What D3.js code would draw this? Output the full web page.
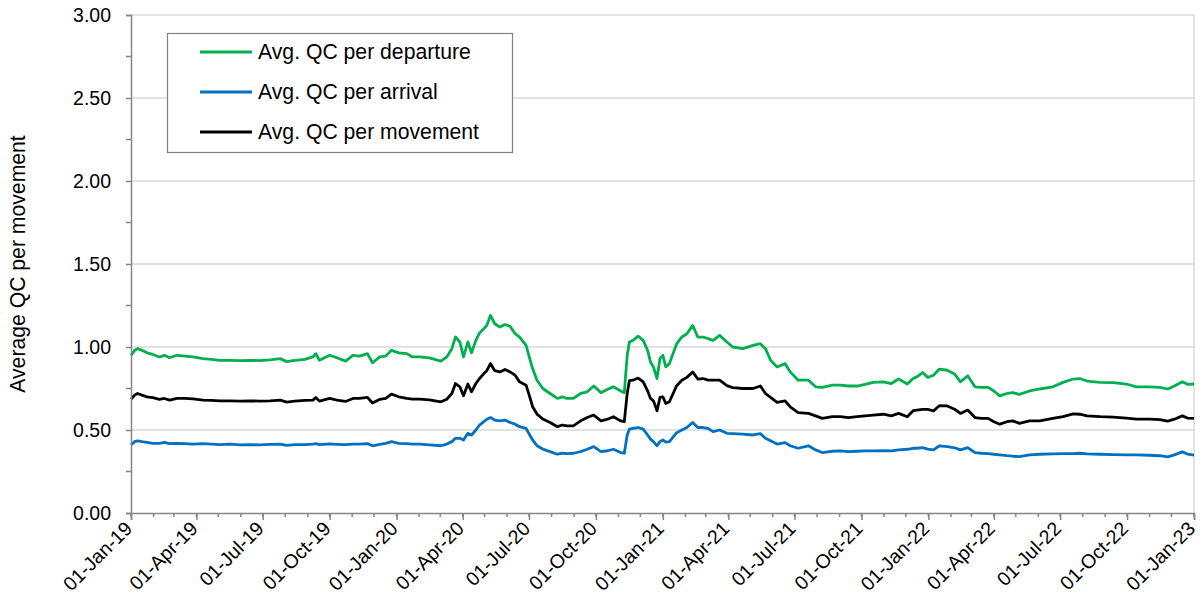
<!DOCTYPE html>
<html>
<head>
<meta charset="utf-8">
<script src="https://cdn.jsdelivr.net/npm/d3@7"></script>
<style>
  html, body { margin: 0; padding: 0; background: #fff; }
  svg { display: block; font-family: "Liberation Sans", Arial, sans-serif; }
</style>
</head>
<body>
<svg id="chart" width="1203" height="594"></svg>
<script>
const dates = ["2019-01-01","2019-01-06","2019-01-10","2019-01-16","2019-01-23","2019-01-31","2019-02-09","2019-02-16","2019-02-23","2019-03-05",
"2019-03-16","2019-03-27","2019-04-10","2019-04-22","2019-05-03","2019-05-17","2019-05-31","2019-06-13","2019-06-27","2019-07-11",
"2019-07-25","2019-08-03","2019-08-14","2019-08-28","2019-09-08","2019-09-12","2019-09-17","2019-10-01","2019-10-11","2019-10-23",
"2019-11-02","2019-11-11","2019-11-22","2019-11-29","2019-12-09","2019-12-17","2019-12-25","2020-01-04","2020-01-15","2020-01-23",
"2020-02-02","2020-02-15","2020-03-02","2020-03-10","2020-03-17","2020-03-22","2020-03-28","2020-04-02","2020-04-08","2020-04-13",
"2020-04-19","2020-04-24","2020-04-30","2020-05-04","2020-05-09","2020-05-15","2020-05-22","2020-05-29","2020-06-05","2020-06-12",
"2020-06-18","2020-06-27","2020-07-02","2020-07-06","2020-07-12","2020-07-20","2020-07-30","2020-08-09","2020-08-16","2020-08-22",
"2020-08-31","2020-09-10","2020-09-19","2020-09-28","2020-10-08","2020-10-17","2020-10-25","2020-11-04","2020-11-09","2020-11-13",
"2020-11-16","2020-11-21","2020-11-28","2020-12-05","2020-12-11","2020-12-15","2020-12-19","2020-12-24","2020-12-28","2021-01-01",
"2021-01-05","2021-01-10","2021-01-20","2021-01-27","2021-02-03","2021-02-11","2021-02-18","2021-02-25","2021-03-04","2021-03-11",
"2021-03-20","2021-03-30","2021-04-07","2021-04-21","2021-05-05","2021-05-15","2021-05-22","2021-05-29","2021-06-07","2021-06-18",
"2021-06-25","2021-07-06","2021-07-20","2021-07-30","2021-08-08","2021-08-22","2021-09-02","2021-09-13","2021-09-25","2021-10-06",
"2021-10-17","2021-10-31","2021-11-11","2021-11-21","2021-12-03","2021-12-11","2021-12-16","2021-12-24","2021-12-31","2022-01-08",
"2022-01-16","2022-01-27","2022-02-06","2022-02-14","2022-02-24","2022-03-06","2022-03-15","2022-03-24","2022-04-01","2022-04-09",
"2022-04-19","2022-04-27","2022-05-06","2022-05-20","2022-06-03","2022-06-21","2022-07-05","2022-07-19","2022-07-28","2022-08-07",
"2022-08-25","2022-09-12","2022-09-30","2022-10-14","2022-11-01","2022-11-15","2022-11-26","2022-12-05","2022-12-16","2022-12-23",
"2023-01-01"];

const departure = [0.95,0.98,0.99,0.98,0.965,0.955,0.94,0.95,0.935,0.95,
0.945,0.94,0.93,0.925,0.92,0.92,0.918,0.92,0.918,0.922,
0.93,0.912,0.92,0.925,0.94,0.96,0.92,0.95,0.935,0.915,
0.95,0.945,0.96,0.905,0.94,0.945,0.98,0.965,0.96,0.94,
0.94,0.935,0.915,0.94,0.99,1.06,1.03,0.94,1.03,0.965,
1.04,1.085,1.11,1.13,1.19,1.14,1.12,1.135,1.125,1.08,
1.06,1.01,0.93,0.87,0.80,0.75,0.72,0.69,0.70,0.69,
0.69,0.72,0.73,0.765,0.725,0.745,0.76,0.735,0.725,0.95,
1.03,1.04,1.065,1.04,0.98,0.91,0.88,0.81,0.93,0.95,
0.88,0.90,1.02,1.06,1.08,1.13,1.06,1.06,1.05,1.04,
1.07,1.03,1.00,0.99,1.01,1.02,0.99,0.92,0.88,0.90,
0.85,0.80,0.80,0.76,0.757,0.77,0.77,0.765,0.765,0.775,
0.787,0.79,0.78,0.807,0.777,0.81,0.82,0.846,0.817,0.83,
0.867,0.86,0.837,0.79,0.827,0.76,0.757,0.757,0.735,0.706,
0.72,0.725,0.715,0.735,0.747,0.76,0.787,0.807,0.81,0.795,
0.787,0.785,0.777,0.76,0.76,0.757,0.747,0.765,0.79,0.775,
0.777];

const arrival = [0.41,0.43,0.435,0.43,0.425,0.42,0.42,0.425,0.418,0.42,
0.418,0.415,0.418,0.415,0.412,0.415,0.41,0.412,0.41,0.413,
0.415,0.408,0.412,0.412,0.415,0.418,0.412,0.416,0.414,0.412,
0.415,0.415,0.418,0.405,0.414,0.42,0.43,0.42,0.418,0.415,
0.415,0.41,0.405,0.415,0.43,0.45,0.45,0.44,0.48,0.47,
0.50,0.53,0.55,0.565,0.575,0.56,0.555,0.56,0.545,0.535,
0.52,0.51,0.47,0.44,0.405,0.385,0.37,0.354,0.36,0.358,
0.36,0.37,0.384,0.40,0.37,0.375,0.384,0.364,0.36,0.47,
0.505,0.51,0.515,0.505,0.47,0.445,0.43,0.405,0.43,0.44,
0.427,0.43,0.484,0.50,0.515,0.545,0.515,0.515,0.51,0.49,
0.50,0.48,0.478,0.475,0.47,0.478,0.45,0.435,0.415,0.424,
0.405,0.39,0.405,0.38,0.364,0.372,0.374,0.37,0.372,0.374,
0.374,0.376,0.374,0.38,0.384,0.39,0.39,0.394,0.385,0.38,
0.405,0.40,0.393,0.38,0.394,0.364,0.36,0.358,0.354,0.35,
0.345,0.342,0.34,0.35,0.354,0.356,0.358,0.358,0.36,0.356,
0.354,0.352,0.35,0.35,0.348,0.345,0.338,0.35,0.368,0.355,
0.348];

const movement = [0.685,0.71,0.72,0.71,0.70,0.695,0.685,0.69,0.68,0.69,
0.69,0.688,0.68,0.678,0.676,0.676,0.674,0.676,0.674,0.676,
0.68,0.668,0.674,0.678,0.68,0.696,0.674,0.69,0.68,0.672,
0.69,0.69,0.696,0.663,0.685,0.69,0.716,0.70,0.69,0.686,
0.686,0.682,0.67,0.685,0.72,0.78,0.76,0.706,0.777,0.73,
0.78,0.81,0.84,0.857,0.90,0.857,0.85,0.865,0.85,0.83,
0.79,0.77,0.70,0.64,0.596,0.566,0.545,0.52,0.53,0.525,
0.525,0.555,0.575,0.59,0.555,0.565,0.58,0.555,0.55,0.72,
0.797,0.80,0.813,0.79,0.736,0.69,0.676,0.616,0.696,0.70,
0.66,0.67,0.767,0.80,0.817,0.85,0.807,0.81,0.80,0.80,
0.80,0.767,0.755,0.75,0.75,0.765,0.72,0.696,0.666,0.676,
0.64,0.605,0.60,0.585,0.57,0.58,0.58,0.575,0.58,0.585,
0.59,0.595,0.585,0.60,0.58,0.616,0.62,0.624,0.624,0.615,
0.646,0.645,0.625,0.60,0.62,0.575,0.57,0.57,0.55,0.535,
0.55,0.555,0.54,0.555,0.555,0.57,0.58,0.597,0.595,0.585,
0.58,0.578,0.572,0.566,0.565,0.563,0.553,0.565,0.585,0.572,
0.57];

const seriesNames = ["Avg. QC per departure", "Avg. QC per arrival", "Avg. QC per movement"];
const seriesColors = ["#00b050", "#0070c0", "#000000"];
const yTicks = [0, 0.5, 1.0, 1.5, 2.0, 2.5, 3.0];
const yTitle = "Average QC per movement";

const parse = d3.timeParse("%Y-%m-%d");
const dts = dates.map(parse);
const seriesValues = [departure, arrival, movement];

const svg = d3.select("#chart");
const L = 131, R = 1194, T = 15, B = 513;

const x = d3.scaleTime().domain([parse("2019-01-01"), parse("2023-01-01")]).range([L, R]);
const y = d3.scaleLinear().domain([0, 3]).range([B, T]);

const tickFont = "19.5px";
const bigFont = "21.2px";

// gridlines
svg.append("g").selectAll("line").data(yTicks.filter(v => v > 0)).join("line")
  .attr("x1", L).attr("x2", R)
  .attr("y1", d => y(d)).attr("y2", d => y(d))
  .attr("stroke", "#d9d9d9").attr("stroke-width", 1.5);
// right border
svg.append("line").attr("x1", R).attr("x2", R).attr("y1", T).attr("y2", B)
  .attr("stroke", "#d9d9d9").attr("stroke-width", 1.5);

// lines
const line = d3.line().x((d, i) => x(dts[i])).y(d => y(d)).curve(d3.curveLinear);
[1, 2, 0].forEach(si => {
  svg.append("path").datum(seriesValues[si])
    .attr("fill", "none").attr("stroke", seriesColors[si])
    .attr("stroke-width", 2.8).attr("stroke-linejoin", "round")
    .attr("d", line);
});

// y axis
const yAxis = d3.axisLeft(y).tickValues(yTicks).tickFormat(d3.format(".2f")).tickSize(5).tickPadding(15);
const yg = svg.append("g").attr("transform", `translate(${L},0)`).call(yAxis);
// minor ticks
svg.append("g").selectAll("line").data(d3.range(0.25, 3, 0.5)).join("line")
  .attr("x1", L - 5).attr("x2", L).attr("y1", d => y(d)).attr("y2", d => y(d))
  .attr("stroke", "#868686").attr("stroke-width", 1.5);

// x axis
const xAxis = d3.axisBottom(x).ticks(d3.timeMonth.every(3)).tickFormat(d3.timeFormat("%d-%b-%y")).tickSize(7).tickPadding(4);
const xg = svg.append("g").attr("transform", `translate(0,${B})`).call(xAxis);
svg.append("g").selectAll("line").data(d3.timeMonth.range(parse("2019-01-01"), parse("2023-01-02"))).join("line")
  .attr("x1", d => x(d)).attr("x2", d => x(d)).attr("y1", B).attr("y2", B + 4)
  .attr("stroke", "#868686").attr("stroke-width", 1.5);

[yg, xg].forEach(g => {
  g.select(".domain").attr("stroke", "#868686").attr("stroke-width", 1.5);
  g.selectAll(".tick line").attr("stroke", "#868686").attr("stroke-width", 1.5);
  g.selectAll("text").attr("font-size", tickFont).attr("fill", "#000").attr("font-family", "Liberation Sans, Arial, sans-serif");
});
xg.selectAll(".tick text")
  .attr("y", 0).attr("x", 0)
  .attr("text-anchor", "end")
  .attr("transform", "translate(-3,12) rotate(-45)")
  .attr("dy", "0.35em").attr("dx", "0");

// y title
svg.append("text")
  .attr("transform", `translate(25,${(T + B) / 2}) rotate(-90)`)
  .attr("text-anchor", "middle").attr("font-size", bigFont).attr("fill", "#000")
  .text(yTitle);

// legend
const lg = svg.append("g");
lg.append("rect").attr("x", 167.5).attr("y", 33.5).attr("width", 345).attr("height", 119)
  .attr("fill", "#fff").attr("stroke", "#808080").attr("stroke-width", 1.2);
seriesNames.forEach((n, i) => {
  const yy = 52 + i * 40;
  lg.append("line").attr("x1", 200).attr("x2", 252).attr("y1", yy).attr("y2", yy)
    .attr("stroke", seriesColors[i]).attr("stroke-width", 2.8);
  lg.append("text").attr("x", 258).attr("y", yy).attr("dy", "0.35em")
    .attr("font-size", bigFont).attr("fill", "#000").text(n);
});
</script>
</body>
</html>
